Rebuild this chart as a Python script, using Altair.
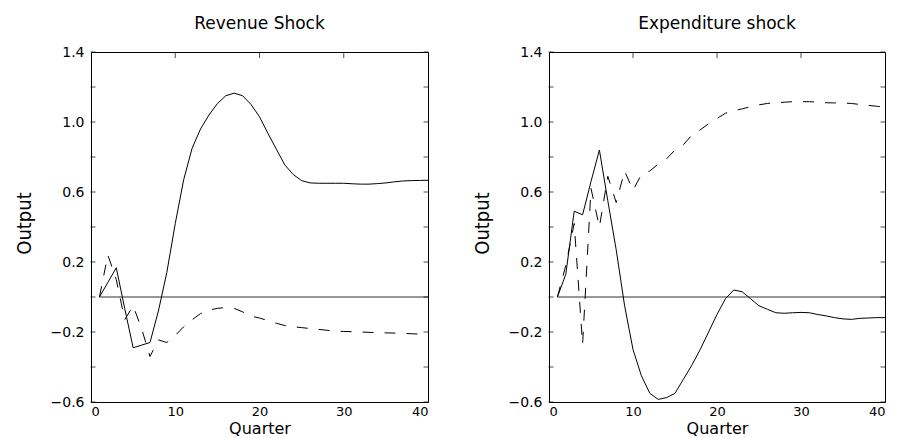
import altair as alt
import pandas as pd

quarters = list(range(1, 41))

rev_solid = [0.0, 0.083, 0.167, -0.065, -0.29, -0.275, -0.26, -0.08, 0.14, 0.42,
             0.67, 0.85, 0.96, 1.04, 1.105, 1.15, 1.165, 1.15, 1.10, 1.03,
             0.935, 0.845, 0.755, 0.70, 0.665, 0.652, 0.65, 0.65, 0.65, 0.65,
             0.647, 0.645, 0.645, 0.648, 0.652, 0.658, 0.663, 0.665, 0.666, 0.667]
rev_dashed = [0.0, 0.24, 0.10, -0.13, -0.05, -0.18, -0.34, -0.245, -0.26, -0.22,
              -0.17, -0.13, -0.095, -0.075, -0.065, -0.06, -0.065, -0.085, -0.11, -0.12,
              -0.135, -0.15, -0.163, -0.17, -0.175, -0.18, -0.185, -0.19, -0.195, -0.197,
              -0.198, -0.2, -0.202, -0.204, -0.205, -0.206, -0.207, -0.21, -0.212, -0.215]
exp_solid = [0.0, 0.13, 0.49, 0.47, 0.66, 0.84, 0.55, 0.27, -0.05, -0.30,
             -0.45, -0.55, -0.585, -0.575, -0.55, -0.47, -0.39, -0.30, -0.20, -0.10,
             -0.01, 0.04, 0.03, -0.01, -0.05, -0.07, -0.09, -0.093, -0.09, -0.088,
             -0.09, -0.10, -0.108, -0.118, -0.125, -0.128, -0.122, -0.12, -0.118, -0.118]
exp_dashed = [0.0, 0.18, 0.42, -0.27, 0.62, 0.40, 0.69, 0.54, 0.72, 0.61,
              0.70, 0.72, 0.76, 0.79, 0.84, 0.87, 0.925, 0.955, 0.99, 1.02,
              1.05, 1.065, 1.075, 1.088, 1.098, 1.106, 1.11, 1.113, 1.116, 1.116,
              1.116, 1.114, 1.11, 1.109, 1.108, 1.106, 1.10, 1.095, 1.09, 1.085]

y_ticks = [-0.6, -0.4, -0.2, 0.0, 0.2, 0.4, 0.6, 0.8, 1.0, 1.2, 1.4]
y_labels = [-0.6, -0.2, 0.2, 0.6, 1.0, 1.4]
x_labels = [0, 10, 20, 30, 40]
x_top_ticks = [10, 20, 30]
zero_q = [1, 40]
zero_v = [0.0, 0.0]

FONT = "DejaVu Sans"
YFONT = "DejaVu Sans Condensed"
H = 350


def panel(title, solid, dashed, w):
    df = pd.DataFrame({"q": quarters, "solid": solid, "dashed": dashed})
    xs = alt.Scale(domain=[0, 40], nice=False, zero=False)
    ys = alt.Scale(domain=[-0.6, 1.4], nice=False, zero=False)
    xax = alt.Axis(values=x_labels, title="Quarter", ticks=False, grid=False, domain=False,
                   labelFont=FONT, labelFontSize=13, labelPadding=3, labelColor="black",
                   titleFont=FONT, titleFontSize=16, titleFontWeight="normal",
                   titleColor="black", titlePadding=2)
    yax = alt.Axis(values=y_labels, format=".1f", title="Output", ticks=False, grid=False,
                   domain=False, labelFont=FONT, labelFontSize=14, labelPadding=7,
                   labelColor="black", titleFont=YFONT, titleFontSize=20,
                   titleFontWeight="normal", titleColor="black",
                   titleX=-61, titleY=171, titleBaseline="alphabetic", titleAlign="center")
    X = alt.X("q:Q", scale=xs, axis=xax)
    base = alt.Chart(df)
    solid_line = base.mark_line(color="black", strokeWidth=1).encode(
        x=X, y=alt.Y("solid:Q", scale=ys, axis=yax))
    dashed_line = base.mark_line(color="black", strokeWidth=1, strokeDash=[11, 11]).encode(
        x=X, y=alt.Y("dashed:Q", scale=ys, axis=yax))
    zero = alt.Chart(pd.DataFrame({"q": zero_q, "v": zero_v})).mark_line(
        color="#333333", strokeWidth=1).encode(
        x=X, y=alt.Y("v:Q", scale=ys, axis=yax))
    tdf = pd.DataFrame({"v": y_ticks})
    lt = alt.Chart(tdf).mark_tick(orient="horizontal", size=5, thickness=1, color="black").encode(
        y=alt.Y("v:Q", scale=ys, axis=yax), x=alt.value(2))
    rt = alt.Chart(tdf).mark_tick(orient="horizontal", size=5, thickness=1, color="black").encode(
        y=alt.Y("v:Q", scale=ys, axis=yax), x=alt.value(w - 2))
    tt = alt.Chart(pd.DataFrame({"q": x_top_ticks})).mark_tick(
        orient="vertical", size=6, thickness=1, color="black").encode(
        x=X, y=alt.value(3))
    return alt.layer(zero, dashed_line, solid_line, lt, rt, tt).properties(
        width=w, height=H,
        title=alt.TitleParams(title, font=FONT, fontSize=17, fontWeight="normal",
                              color="black", offset=12, anchor="middle"),
    )


left = panel("Revenue Shock", rev_solid, rev_dashed, 337)
right = panel("Expenditure shock", exp_solid, exp_dashed, 336)

chart = alt.hconcat(left, right, spacing=40).properties(
    padding={"left": 13, "top": 14, "right": 5, "bottom": 0},
    background="white",
).configure_view(stroke="black", strokeWidth=1)

chart.save("out.html", embed_options={"renderer": "svg", "actions": False})
